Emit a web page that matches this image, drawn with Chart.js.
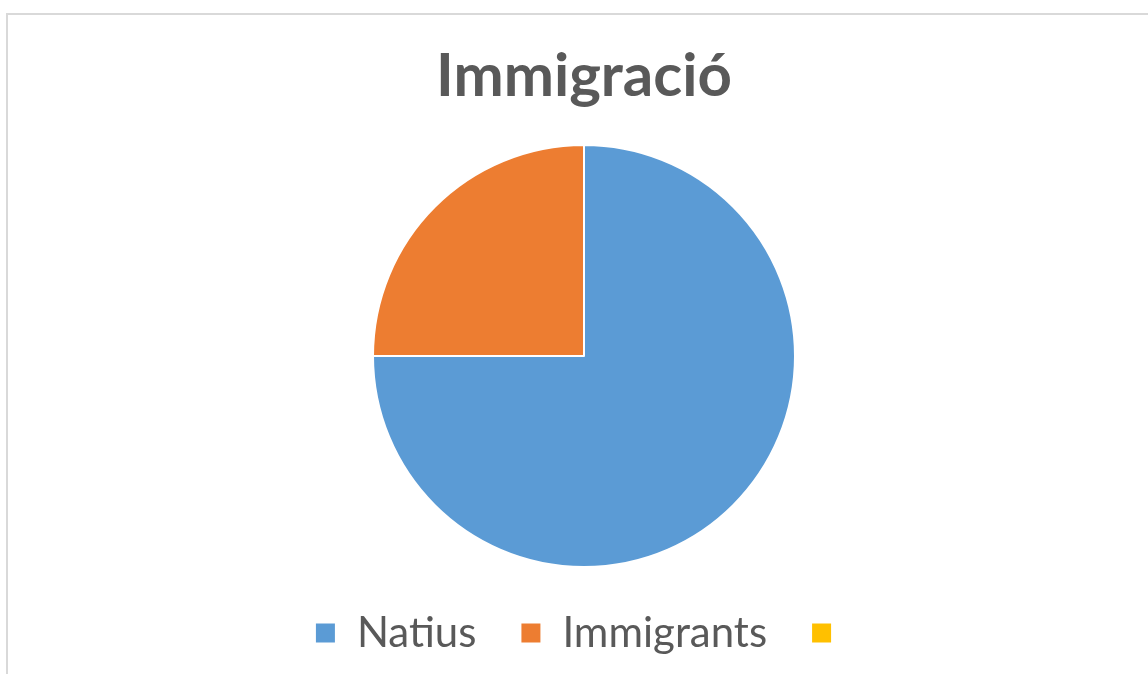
<!DOCTYPE html>
<html>
<head>
<meta charset="utf-8">
<script src="https://cdn.jsdelivr.net/npm/chart.js@4"></script>
<style>
  html, body { margin: 0; padding: 0; background: #fff; }
  #frame {
    position: absolute; left: 6px; top: 13px; width: 1148px; height: 670px;
    border-left: 2px solid #d9d9d9; border-top: 2px solid #d9d9d9;
  }
  #chart { position: absolute; left: 0; top: 0; }
</style>
</head>
<body>
<div id="frame"></div>
<canvas id="chart" width="1148" height="674"></canvas>
<script>
const titleText = "Immigració";
const categories = ["Natius", "Immigrants", ""];
const values = [75, 25, 0];
const colors = ["#5b9bd5", "#ed7d31", "#ffc000"];

const ctx = document.getElementById("chart").getContext("2d");

const chart = new Chart(ctx, {
  type: "pie",
  data: {
    labels: categories,
    datasets: [{
      data: values,
      backgroundColor: colors,
      borderColor: "#ffffff",
      borderWidth: 2,
      hoverOffset: 0
    }]
  },
  options: {
    responsive: false,
    animation: false,
    layout: {
      padding: { left: 20, right: 0, top: 0, bottom: 10 }
    },
    plugins: {
      title: {
        display: true,
        text: titleText,
        color: "#595959",
        font: { family: "Lato", size: 60, weight: "bold" },
        padding: { top: 41, bottom: 31 }
      },
      legend: {
        position: "bottom",
        labels: {
          color: "#595959",
          font: { family: "Lato", size: 42 },
          boxWidth: 21,
          boxHeight: 21,
          padding: 44
        }
      },
      tooltip: { enabled: false }
    }
  }
});
</script>
</body>
</html>
